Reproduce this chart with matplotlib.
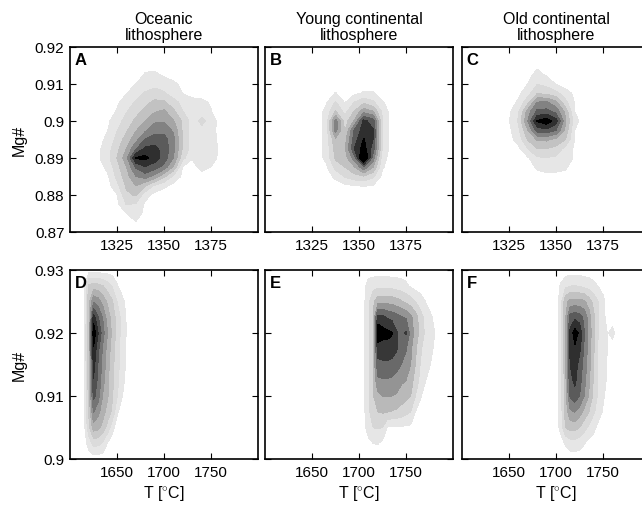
import matplotlib
matplotlib.use("Agg")
import matplotlib.pyplot as plt
import numpy as np

plt.rcParams['font.family'] = ['Liberation Sans', 'DejaVu Sans']
plt.rcParams['mathtext.fontset'] = 'custom'
plt.rcParams['mathtext.rm'] = 'Liberation Sans'

# column headings and panel letters
col_titles = ["Oceanic\nlithosphere", "Young continental\nlithosphere", "Old continental\nlithosphere"]
panel_letters = ["A", "B", "C", "D", "E", "F"]

# axes and ticks
top_xlim = (1300, 1400)
top_ylim = (0.87, 0.92)
top_xticks = [1325, 1350, 1375]
top_yticks = [0.87, 0.88, 0.89, 0.90, 0.91, 0.92]
top_ylabels = ["0.87", "0.88", "0.89", "0.9", "0.91", "0.92"]
bot_xlim = (1600, 1800)
bot_ylim = (0.90, 0.93)
bot_xticks = [1650, 1700, 1750]
bot_yticks = [0.90, 0.91, 0.92, 0.93]
bot_ylabels = ["0.9", "0.91", "0.92", "0.93"]

# density level grids (rows from high Mg# to low)
a_T = [1310, 1315, 1320, 1325, 1330, 1335, 1340, 1345, 1350, 1355, 1360, 1365, 1370, 1375, 1380, 1385]
a_mg = [0.915, 0.9125, 0.910, 0.9075, 0.905, 0.9025, 0.900, 0.8975, 0.895, 0.8925,
        0.890, 0.8875, 0.885, 0.8825, 0.880, 0.8775, 0.875, 0.8725, 0.870]
a_z = [[0, 0, 0, 0, 0, 0, .2, .2, 0, 0, 0, 0, 0, 0, 0, 0],
       [0, 0, 0, 0, 0, 0, .6, .7, .33, 0, 0, 0, 0, 0, 0, 0],
       [0, 0, 0, 0, 0, .51, 1.0, 1.2, 1.1, .75, .2, 0, 0, 0, 0, 0],
       [0, 0, 0, 0, .47, 1.02, 1.6, 1.9, 1.6, 1.04, .47, .1, .1, 0, 0, 0],
       [0, 0, 0, .34, .98, 1.65, 2.22, 2.75, 2.7, 1.9, 1.2, .9, .75, .4, 0, 0],
       [0, 0, .06, .6, 1.43, 2.15, 2.81, 3.44, 3.7, 2.75, 1.53, 1.1, 1.2, .55, 0, 0],
       [0, 0, .32, 1.05, 1.91, 2.73, 3.5, 4.33, 4.4, 3.58, 2.33, 1.05, 1.7, 1.2, 0, 0],
       [0, 0, .47, 1.46, 2.37, 3.41, 4.32, 5.1, 5.2, 4.33, 2.33, 1.0, 1.3, 1.0, 0, 0],
       [0, .13, .76, 1.82, 2.95, 4.12, 5.55, 6.0, 5.9, 4.81, 2.33, 1.0, .9, .8, .29, 0],
       [0, .28, 1.06, 2.2, 3.52, 5.4, 6.75, 6.8, 6.14, 4.8, 2.33, 1.0, .95, .85, .35, 0],
       [0, .34, 1.15, 2.52, 4.1, 7.6, 7.8, 6.97, 6.11, 4.5, 1.83, .55, .9, .8, .32, 0],
       [0, .09, .74, 2.11, 3.48, 5.6, 6.4, 6.0, 5.08, 3.3, .39, .22, .75, .48, 0, 0],
       [0, 0, .35, 1.78, 3.04, 4.5, 5.0, 4.08, 2.72, 1.28, .28, 0, .2, .15, 0, 0],
       [0, 0, .13, 1.18, 2.67, 3.5, 2.55, 1.34, .72, .18, 0, 0, 0, 0, 0, 0],
       [0, 0, 0, .45, 2.29, 2.6, .91, .17, 0, 0, 0, 0, 0, 0, 0, 0],
       [0, 0, 0, .28, 1.55, 1.39, .32, 0, 0, 0, 0, 0, 0, 0, 0, 0],
       [0, 0, 0, 0, .49, 1.1, .18, 0, 0, 0, 0, 0, 0, 0, 0, 0],
       [0, 0, 0, 0, .3, .4, 0, 0, 0, 0, 0, 0, 0, 0, 0, 0],
       [0, 0, 0, 0, 0, 0, 0, 0, 0, 0, 0, 0, 0, 0, 0, 0]]

b_T = [1327.5, 1332.5, 1337.5, 1342.5, 1347.5, 1352.5, 1357.5, 1362.5, 1367.5]
b_mg = [0.9125, 0.910, 0.9075, 0.905, 0.9025, 0.900, 0.8975, 0.895, 0.8925,
        0.890, 0.8875, 0.885, 0.8825, 0.880, 0.8775]
b_z = [[0, 0, 0, 0, 0, 0, 0, 0, 0],
       [0, 0, .15, 0, 0, .1, .1, 0, 0],
       [0, 0, .55, 0, .3, .6, .6, .14, 0],
       [0, .4, 1.6, .45, 1.55, 2.3, 1.7, .6, 0],
       [0, .8, 2.6, 1.2, 2.6, 4.2, 3.6, 1.3, 0],
       [0, .8, 5.0, 2.0, 3.6, 6.8, 6.0, 1.5, 0],
       [0, .85, 4.9, 2.4, 5.6, 7.0, 6.6, 1.55, 0],
       [0, .85, 3.3, 3.1, 6.0, 7.6, 6.5, 1.5, 0],
       [0, .8, 2.9, 3.3, 6.5, 8.0, 6.0, 1.4, 0],
       [0, .75, 2.7, 3.0, 5.0, 9.5, 5.0, .9, 0],
       [0, .3, 1.8, 2.5, 3.4, 5.2, 3.5, .6, 0],
       [0, 0, .75, 1.6, 2.1, 2.4, 1.7, .25, 0],
       [0, 0, 0, .3, .45, .55, .45, 0, 0],
       [0, 0, 0, 0, 0, 0, 0, 0, 0],
       [0, 0, 0, 0, 0, 0, 0, 0, 0]]

c_T = [1320, 1325, 1330, 1335, 1340, 1345, 1350, 1355, 1360, 1365]
c_mg = [0.9175, 0.915, 0.9125, 0.910, 0.9075, 0.905, 0.9025, 0.900, 0.8975,
        0.895, 0.8925, 0.890, 0.8875, 0.885]
c_z = [[0, 0, 0, 0, 0, 0, 0, 0, 0, 0],
       [0, 0, 0, 0, .3, .2, 0, 0, 0, 0],
       [0, 0, 0, .2, .8, .37, 0, 0, 0, 0],
       [0, 0, 0, .51, 1.45, 1.2, .45, 0, 0, 0],
       [0, 0, .28, 1.12, 2.4, 2.2, 1.8, 1.0, .27, 0],
       [0, .06, .66, 2.2, 4.6, 4.7, 3.8, 1.8, .41, 0],
       [0, .31, 1.36, 4.0, 5.8, 5.85, 5.2, 3.25, .49, 0],
       [0, .43, 1.63, 4.5, 7.6, 8.2, 7.0, 3.67, .89, 0],
       [0, .27, 1.23, 3.5, 6.0, 6.2, 5.5, 3.25, .48, 0],
       [0, .14, .91, 2.6, 3.6, 3.7, 3.2, 2.5, .44, 0],
       [0, 0, .26, 1.5, 2.45, 2.5, 2.2, 1.15, .33, 0],
       [0, 0, 0, .38, 1.35, 1.45, 1.3, 1.0, .37, 0],
       [0, 0, 0, 0, .65, .8, .75, .65, 0, 0],
       [0, 0, 0, 0, .2, .28, .28, .2, 0, 0]]

d_T = [1610, 1615, 1620, 1625, 1630, 1635, 1640, 1645, 1650, 1655, 1660, 1665]
d_mg = [0.930, 0.9275, 0.925, 0.9225, 0.920, 0.9175, 0.915, 0.9125, 0.910,
        0.9075, 0.905, 0.9025, 0.900]
d_z = [[0, 0, 0, 0, 0, 0, 0, 0, 0, 0, 0, 0],
       [0, .3, 2.7, 2.9, 2.8, 2.5, 2.0, 1.4, .6, .1, 0, 0],
       [0, .3, 3.2, 5.4, 5.0, 4.1, 3.3, 2.6, 1.5, .85, .2, 0],
       [0, .3, 3.2, 8.0, 6.6, 5.4, 4.0, 3.1, 2.1, 1.2, .43, 0],
       [0, .4, 3.2, 9.3, 7.5, 5.9, 4.5, 3.25, 2.1, 1.2, .45, 0],
       [0, .4, 3.2, 8.4, 6.75, 5.3, 4.1, 3.0, 2.0, 1.1, .4, 0],
       [0, .4, 3.1, 7.9, 6.4, 5.1, 3.9, 2.8, 1.9, 1.05, .35, 0],
       [0, .4, 3.0, 7.45, 6.2, 4.9, 3.7, 2.7, 1.8, .9, .2, 0],
       [0, .35, 2.9, 6.8, 5.9, 4.4, 3.6, 2.6, 1.6, .6, 0, 0],
       [0, .3, 2.6, 5.6, 4.8, 3.9, 3.1, 2.3, .7, .05, 0, 0],
       [0, .2, 2.2, 4.0, 3.8, 3.1, 2.1, .9, 0, 0, 0, 0],
       [0, 0, .9, 1.86, 1.8, 1.3, .45, 0, 0, 0, 0, 0],
       [0, 0, 0, 0, 0, 0, 0, 0, 0, 0, 0, 0]]

e_T = [1700, 1705, 1710, 1715, 1720, 1725, 1730, 1735, 1740, 1745, 1750, 1755,
       1760, 1765, 1770, 1775, 1780, 1785]
e_mg = [0.930, 0.9275, 0.925, 0.9225, 0.920, 0.9175, 0.915, 0.9125, 0.910,
        0.9075, 0.905, 0.9025, 0.900]
e_z = [[0, 0, 0, 0, 0, 0, 0, 0, 0, 0, 0, 0, 0, 0, 0, 0, 0, 0],
       [0, .2, .9, 1.1, 1.2, 1.2, 1.15, 1.1, 1.0, .9, .7, .35, .1, 0, 0, 0, 0, 0],
       [0, .25, 1.2, 2.3, 3.1, 3.2, 3.2, 3.1, 2.9, 2.6, 2.3, 2.0, 1.5, 1.0, .55, .1, 0, 0],
       [0, .25, 1.2, 2.45, 5.9, 5.8, 5.4, 5.2, 4.9, 4.6, 4.4, 3.7, 3.0, 2.0, 1.26, .79, .3, 0],
       [0, .25, 1.18, 2.45, 7.3, 6.9, 6.8, 6.6, 5.6, 5.2, 5.6, 4.1, 3.1, 2.2, 1.4, .95, .55, .1],
       [0, .25, 1.2, 2.45, 6.0, 6.0, 6.1, 6.0, 5.6, 5.0, 4.6, 3.7, 2.7, 1.7, 1.1, .8, .4, 0],
       [0, .25, 1.2, 2.5, 5.2, 5.3, 5.3, 5.2, 5.0, 4.5, 4.0, 3.5, 2.5, 1.5, 1.0, .6, .1, 0],
       [0, .25, 1.2, 2.5, 4.3, 4.4, 4.4, 4.3, 4.0, 3.7, 3.5, 2.9, 2.1, 1.25, .62, .1, 0, 0],
       [0, .25, 1.2, 2.4, 3.2, 3.5, 3.55, 3.5, 3.4, 3.0, 2.8, 2.5, 1.5, .67, .1, 0, 0, 0],
       [0, .25, 1.2, 2.2, 2.5, 2.6, 2.55, 2.45, 2.3, 2.1, 1.8, 1.5, .5, .05, 0, 0, 0, 0],
       [0, .15, 1.0, 1.5, 1.6, 1.5, .45, .35, .35, .35, .35, .3, .2, 0, 0, 0, 0, 0],
       [0, 0, .2, .5, .55, .3, 0, 0, 0, 0, 0, 0, 0, 0, 0, 0, 0, 0],
       [0, 0, 0, 0, 0, 0, 0, 0, 0, 0, 0, 0, 0, 0, 0, 0, 0, 0]]

f_T = [1695, 1700, 1705, 1710, 1715, 1720, 1725, 1730, 1735, 1740, 1745, 1750,
       1755, 1760, 1765, 1770]
f_mg = [0.930, 0.9275, 0.925, 0.9225, 0.920, 0.9175, 0.915, 0.9125, 0.910,
        0.9075, 0.905, 0.9025, 0.900]
f_z = [[0, 0, 0, 0, 0, 0, 0, 0, 0, 0, 0, 0, 0, 0, 0, 0],
       [0, 0, .6, 1.2, 1.45, 1.52, 1.4, 1.2, 1.0, .75, .45, .2, 0, 0, 0, 0],
       [0, 0, 1.0, 3.2, 3.8, 3.86, 3.8, 3.7, 3.0, 2.2, 1.5, .73, .15, 0, 0, 0],
       [0, 0, 1.0, 3.3, 5.9, 6.23, 6.0, 5.25, 4.0, 2.75, 1.5, .8, .1, .2, 0, 0],
       [0, 0, 1.0, 3.3, 6.8, 8.0, 7.3, 5.55, 4.2, 2.72, 1.44, .97, .45, .7, .3, 0],
       [0, 0, 1.0, 3.3, 6.7, 7.34, 6.8, 5.35, 4.07, 2.64, 1.4, .95, .45, .2, 0, 0],
       [0, 0, 1.0, 3.2, 6.5, 7.05, 6.1, 5.1, 3.9, 2.5, 1.4, .9, .4, 0, 0, 0],
       [0, 0, 1.0, 3.1, 6.2, 6.73, 5.9, 4.85, 3.7, 2.37, 1.35, .84, .33, 0, 0, 0],
       [0, 0, 1.0, 3.0, 5.6, 6.13, 5.5, 4.5, 3.4, 2.25, 1.3, .68, .1, 0, 0, 0],
       [0, 0, 1.0, 2.8, 4.3, 4.56, 4.0, 3.2, 2.5, 1.67, 1.0, .4, 0, 0, 0, 0],
       [0, 0, .8, 2.5, 2.85, 2.88, 2.5, 1.9, 1.3, .8, .2, 0, 0, 0, 0, 0],
       [0, 0, .1, .6, 1.0, 1.04, .9, .55, .2, 0, 0, 0, 0, 0, 0, 0],
       [0, 0, 0, 0, 0, 0, 0, 0, 0, 0, 0, 0, 0, 0, 0, 0]]

# (grid, number of shaded bands) per panel
panels = [(a_T, a_mg, a_z, 8), (b_T, b_mg, b_z, 8), (c_T, c_mg, c_z, 8),
          (d_T, d_mg, d_z, 9), (e_T, e_mg, e_z, 7), (f_T, f_mg, f_z, 8)]

W, H = 642, 506
lefts = [70, 265, 462]
tops = [48, 271]
heights = [185, 189]
axw = 188

fig = plt.figure(figsize=(W / 100, H / 100), dpi=100)

for i, (T, mg, z, nb) in enumerate(panels):
    r, c = divmod(i, 3)
    ax = fig.add_axes([lefts[c] / W, 1 - (tops[r] + heights[r]) / H, axw / W, heights[r] / H])
    Z = np.array(z, dtype=float)[::-1]
    y = np.array(mg)[::-1]
    greys = [str(0.9 * (1 - (k / (nb - 1)) ** 1.5)) for k in range(nb)]
    levels = list(np.arange(nb) + 0.5) + [99]
    ax.contourf(T, y, Z, levels=levels, colors=greys)

    if r == 0:
        ax.set_xlim(*top_xlim)
        ax.set_ylim(*top_ylim)
        ax.set_xticks(top_xticks)
        ax.set_yticks(top_yticks)
        ax.set_yticklabels(top_ylabels if c == 0 else [])
        ax.set_title(col_titles[c], fontsize=11.5, pad=6, linespacing=1.05)
    else:
        ax.set_xlim(*bot_xlim)
        ax.set_ylim(*bot_ylim)
        ax.set_xticks(bot_xticks)
        ax.set_yticks(bot_yticks)
        ax.set_yticklabels(bot_ylabels if c == 0 else [])
        ax.set_xlabel(r"T [$^{\circ}$C]", fontsize=11.5, labelpad=3)
    if c == 0:
        ax.set_ylabel("Mg#", fontsize=11.5, labelpad=6)

    ax.tick_params(direction="in", top=True, right=True, length=4, width=0.8,
                   labelsize=11, pad=4)
    for sp in ax.spines.values():
        sp.set_linewidth(1.2)
    ax.text(0.025, 0.975, panel_letters[i], transform=ax.transAxes, ha="left", va="top",
            fontsize=12, fontweight="bold")

fig.savefig("out.png", dpi=100)
